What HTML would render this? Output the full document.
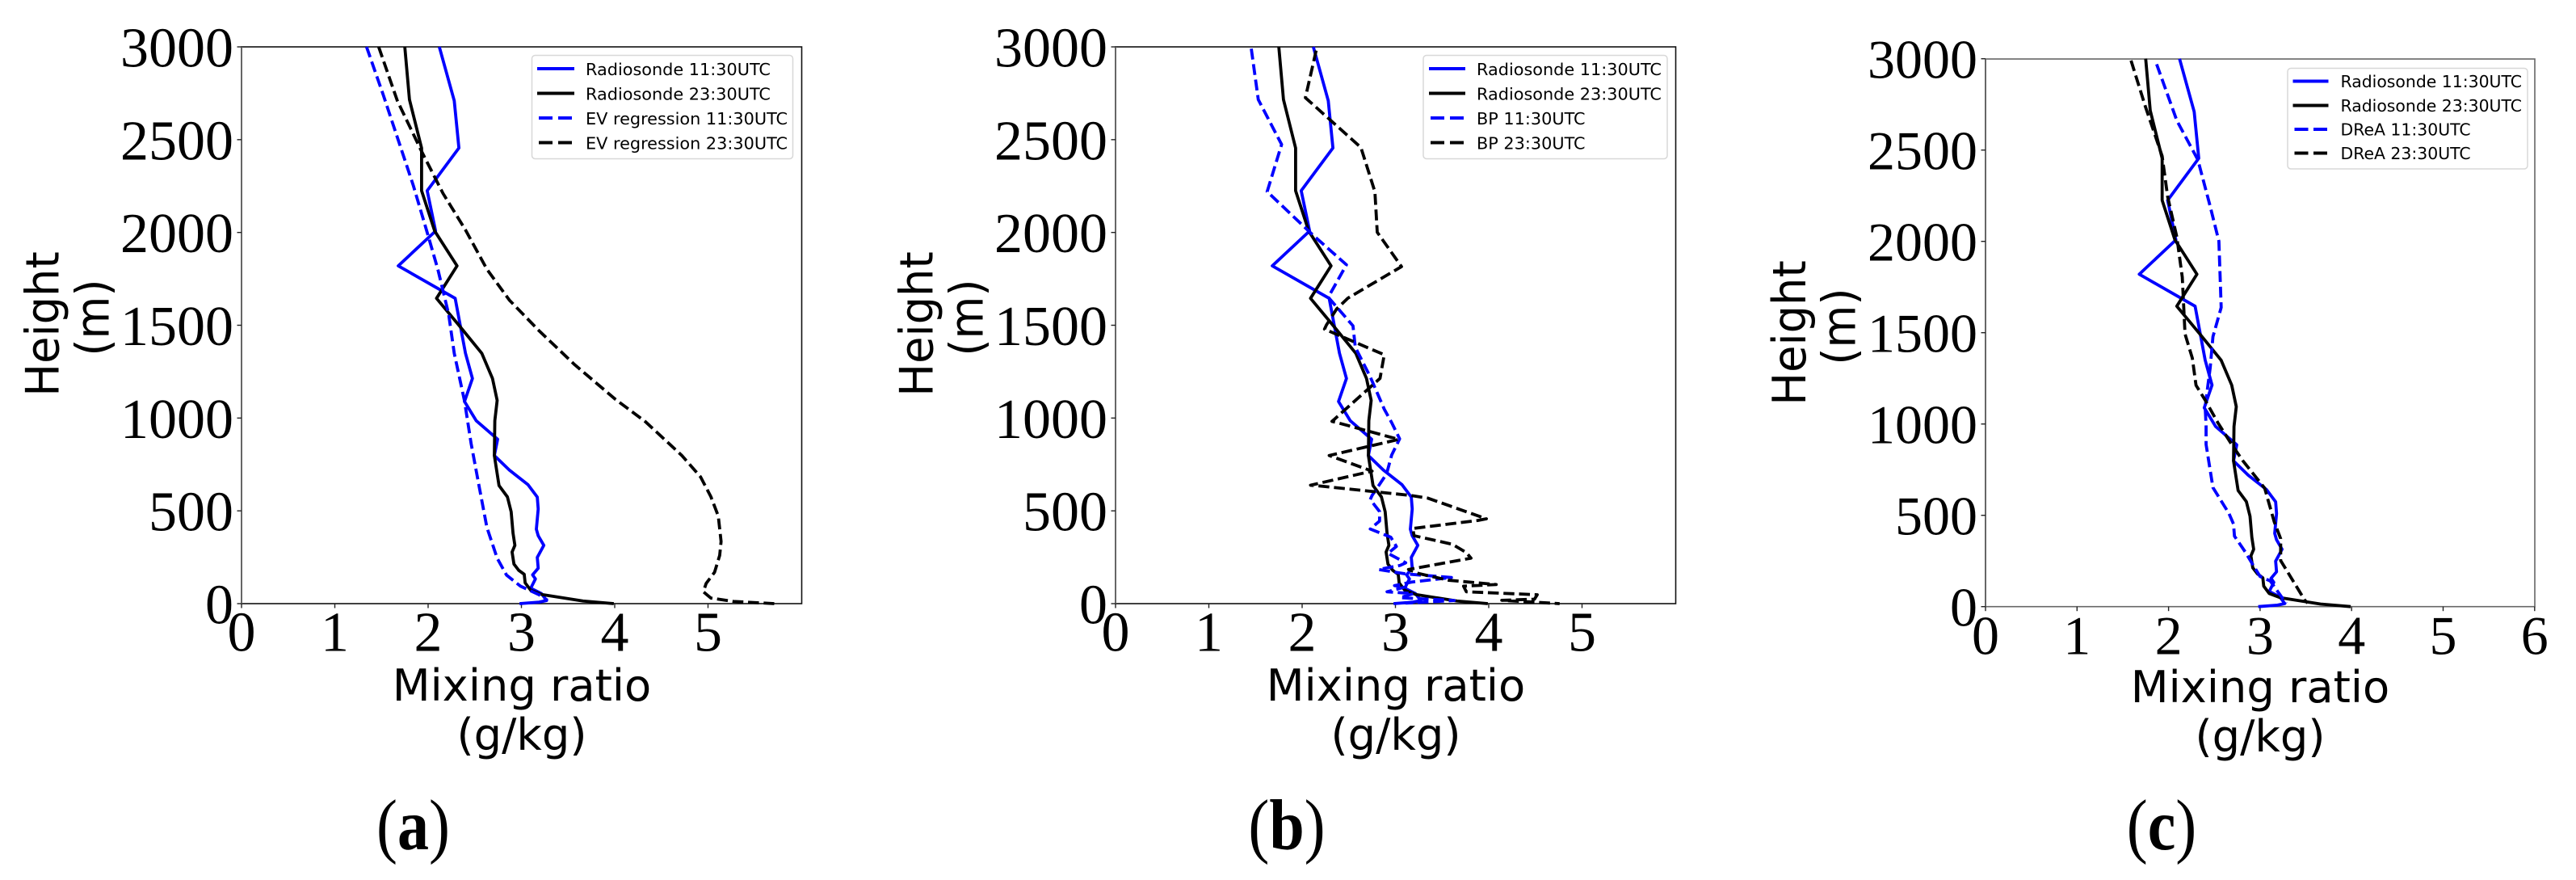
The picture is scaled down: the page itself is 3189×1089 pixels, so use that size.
<!DOCTYPE html>
<html lang="en">
<head>
<meta charset="utf-8">
<title>Mixing ratio profiles</title>
<style>
html,body{margin:0;padding:0;background:#fff;}
svg{display:block;}
.tick-label{font-family:"Liberation Serif",serif;fill:#000;}
.axis-title{font-family:"DejaVu Sans",sans-serif;font-size:54.3px;fill:#000;text-anchor:middle;}
.legend-text{font-family:"DejaVu Sans",sans-serif;font-size:20.8px;fill:#000;}
.caption{font-family:"Liberation Serif",serif;font-size:78px;fill:#000;text-anchor:middle;}
.legend-box{fill:#fff;stroke:#d8d8d8;stroke-width:1.5;}
</style>
</head>
<body>
<svg id="figure" xmlns="http://www.w3.org/2000/svg" width="3189" height="1089" viewBox="0 0 3189 1089">
  <rect x="0" y="0" width="3189" height="1089" fill="#fff"/>

  <g id="panel-a">
    <g id="panel-a-marks"></g>
    <g>
      <rect class="legend-box" x="658.5" y="68.5" width="323" height="128" rx="4"/>
      <line x1="665" x2="711" y1="85" y2="85" stroke="#0000ff" stroke-width="4"/>
      <line x1="665" x2="711" y1="115.5" y2="115.5" stroke="#000" stroke-width="4"/>
      <line x1="667" x2="709" y1="146" y2="146" stroke="#0000ff" stroke-width="4" stroke-dasharray="17 7"/>
      <line x1="667" x2="709" y1="176.5" y2="176.5" stroke="#000" stroke-width="4" stroke-dasharray="17 7"/>
      <text class="legend-text" x="725" y="93">Radiosonde 11:30UTC</text>
      <text class="legend-text" x="725" y="123.5">Radiosonde 23:30UTC</text>
      <text class="legend-text" x="725" y="154">EV regression 11:30UTC</text>
      <text class="legend-text" x="725" y="184.5">EV regression 23:30UTC</text>
    </g>
    <text class="axis-title" x="646" y="867">Mixing ratio</text>
    <text class="axis-title" x="646" y="928">(g/kg)</text>
    <text class="axis-title" transform="translate(72.7 401) rotate(-90) scale(1 1.05)">Height</text>
    <text class="axis-title" transform="translate(134.3 393) rotate(-90) scale(1 1.05)">(m)</text>
    <text class="caption" transform="translate(511.5 1051) scale(1 1.14)">(<tspan font-weight="bold">a</tspan>)</text>
  </g>

  <g id="panel-b">
    <g id="panel-b-marks"></g>
    <g>
      <rect class="legend-box" x="1762" y="68.5" width="302" height="128" rx="4"/>
      <line x1="1769" x2="1814" y1="85" y2="85" stroke="#0000ff" stroke-width="4"/>
      <line x1="1769" x2="1814" y1="115.5" y2="115.5" stroke="#000" stroke-width="4"/>
      <line x1="1771" x2="1812" y1="146" y2="146" stroke="#0000ff" stroke-width="4" stroke-dasharray="17 7"/>
      <line x1="1771" x2="1812" y1="176.5" y2="176.5" stroke="#000" stroke-width="4" stroke-dasharray="17 7"/>
      <text class="legend-text" x="1828" y="93">Radiosonde 11:30UTC</text>
      <text class="legend-text" x="1828" y="123.5">Radiosonde 23:30UTC</text>
      <text class="legend-text" x="1828" y="154">BP 11:30UTC</text>
      <text class="legend-text" x="1828" y="184.5">BP 23:30UTC</text>
    </g>
    <text class="axis-title" x="1728" y="867">Mixing ratio</text>
    <text class="axis-title" x="1728" y="928">(g/kg)</text>
    <text class="axis-title" transform="translate(1154.7 401) rotate(-90) scale(1 1.05)">Height</text>
    <text class="axis-title" transform="translate(1216.3 393) rotate(-90) scale(1 1.05)">(m)</text>
    <text class="caption" transform="translate(1593 1051) scale(1 1.14)">(<tspan font-weight="bold">b</tspan>)</text>
  </g>

  <g id="panel-c">
    <g id="panel-c-marks"></g>
    <g>
      <rect class="legend-box" x="2832" y="84.5" width="297" height="124.5" rx="4"/>
      <line x1="2838.5" x2="2882.5" y1="100.5" y2="100.5" stroke="#0000ff" stroke-width="4"/>
      <line x1="2838.5" x2="2882.5" y1="130.5" y2="130.5" stroke="#000" stroke-width="4"/>
      <line x1="2840.5" x2="2881" y1="160" y2="160" stroke="#0000ff" stroke-width="4" stroke-dasharray="17 6.5"/>
      <line x1="2840.5" x2="2881" y1="189.5" y2="189.5" stroke="#000" stroke-width="4" stroke-dasharray="17 6.5"/>
      <text class="legend-text" x="2897.5" y="108" style="font-size:20.4px">Radiosonde 11:30UTC</text>
      <text class="legend-text" x="2897.5" y="138" style="font-size:20.4px">Radiosonde 23:30UTC</text>
      <text class="legend-text" x="2897.5" y="167.5" style="font-size:20.4px">DReA 11:30UTC</text>
      <text class="legend-text" x="2897.5" y="197" style="font-size:20.4px">DReA 23:30UTC</text>
    </g>
    <text class="axis-title" x="2798" y="869">Mixing ratio</text>
    <text class="axis-title" x="2798" y="930">(g/kg)</text>
    <text class="axis-title" transform="translate(2235 412) rotate(-90) scale(1 1.05)">Height</text>
    <text class="axis-title" transform="translate(2296.5 404) rotate(-90) scale(1 1.05)">(m)</text>
    <text class="caption" transform="translate(2676 1051) scale(1 1.14)">(<tspan font-weight="bold">c</tspan>)</text>
  </g>
</svg>

<script>
// ---- Tick labels ----
const yTickLabels = [0, 500, 1000, 1500, 2000, 2500, 3000];
const xTickLabelsAB = [0, 1, 2, 3, 4, 5];
const xTickLabelsC = [0, 1, 2, 3, 4, 5, 6];

// ---- Radiosonde 11:30 UTC (all panels) ----
const radiosonde1130Height = [3000,2710,2455,2225,2008,1820,1645,1350,1213,1089,986,886,798,720,641,574,510,401,366,314,249,191,155,133,83,54,17,8,0];
const radiosonde1130Mix = [2.12,2.28,2.33,1.99,2.08,1.68,2.29,2.40,2.475,2.39,2.515,2.745,2.71,2.87,3.07,3.17,3.18,3.16,3.18,3.24,3.17,3.18,3.12,3.15,3.10,3.215,3.27,3.19,2.98];

// ---- Radiosonde 23:30 UTC (all panels) ----
const radiosonde2330Height = [3000,2716,2455,2225,2008,1820,1645,1494,1349,1213,1095,986,798,636,575,495,380,314,278,213,180,158,112,72,49,14,0];
const radiosonde2330Mix = [1.75,1.80,1.93,1.93,2.07,2.31,2.09,2.34,2.575,2.69,2.74,2.715,2.71,2.76,2.85,2.89,2.91,2.93,2.90,2.92,2.97,3.03,3.04,3.10,3.22,3.66,3.99];

// ---- EV regression (panel a) ----
const ev1130Height = [3000,2740,2467,2255,2000,1800,1560,1349,1092,865,623,411,245,154,94,48,18];
const ev1130Mix = [1.34,1.52,1.70,1.84,1.99,2.105,2.22,2.28,2.39,2.46,2.55,2.63,2.74,2.84,2.99,3.19,3.28];
const ev2330Height = [3000,2710,2437,2210,2014,1802,1636,1470,1288,1100,980,798,683,577,472,335,260,169,109,64,30,12,0];
const ev2330Mix = [1.47,1.67,1.93,2.16,2.40,2.63,2.87,3.19,3.57,4.01,4.33,4.72,4.92,5.03,5.11,5.14,5.125,5.07,4.98,4.95,5.03,5.27,5.71];

// ---- BP (panel b) ----
const bp1130Height = [2990,2716,2474,2220,1984,1826,1651,1497,1381,1222,1048,975,888,801,699,583,561,496,445,402,358,308,271,220,206,184,160,141,116,97,90,64,54,32,17,3];
const bp1130Mix = [1.455,1.53,1.78,1.625,2.12,2.475,2.28,2.545,2.57,2.73,2.88,2.96,3.045,2.96,2.905,2.75,2.73,2.83,2.83,2.73,2.95,3.01,2.92,3.11,3.05,2.82,3.11,3.60,3.17,2.99,3.11,2.91,3.19,3.05,3.63,3.11];
const bp2330Height = [2980,2726,2458,2219,2001,1816,1646,1588,1501,1479,1341,1214,982,972,885,798,714,638,634,583,568,457,448,405,366,320,275,245,184,162,126,103,94,64,48,24,18,0];
const bp2330Mix = [2.15,2.035,2.63,2.78,2.805,3.065,2.49,2.37,2.26,2.24,2.88,2.835,2.32,2.40,3.035,2.29,2.75,2.09,2.185,3.165,3.35,3.975,3.88,3.185,3.20,3.61,3.76,3.81,3.14,3.25,3.57,4.08,3.73,3.76,4.52,4.49,4.14,4.76];

// ---- DReA (panel c) ----
const drea1130Height = [2970,2662,2447,2201,2001,1638,1478,1308,1212,1094,991,888,652,510,452,386,298,239,165,141,18];
const drea1130Mix = [1.87,2.09,2.32,2.45,2.55,2.575,2.485,2.455,2.43,2.40,2.41,2.41,2.485,2.66,2.71,2.72,2.84,2.91,3.0,3.11,3.285];
const drea2330Height = [2990,2733,2467,2245,2025,1804,1493,1360,1212,1131,1006,888,800,649,464,372,252,203,34,20];
const drea2330Mix = [1.59,1.75,1.93,1.99,2.09,2.15,2.18,2.26,2.30,2.40,2.54,2.69,2.81,3.05,3.155,3.225,3.225,3.285,3.49,3.52];

const SVG_NS = 'http://www.w3.org/2000/svg';
const BLUE = '#0000ff';
const BLACK = '#000000';

function makeXScale(left, unit) { return function (v) { return left + v * unit; }; }
function makeYScale(bottom, perMetre) { return function (h) { return bottom - h * perMetre; }; }

function drawSeries(group, xScale, yScale, mix, height, colour, dashed, name) {
  const pts = mix.map(function (v, i) { return xScale(v).toFixed(2) + ',' + yScale(height[i]).toFixed(2); }).join(' ');
  const line = document.createElementNS(SVG_NS, 'polyline');
  line.setAttribute('points', pts);
  line.setAttribute('fill', 'none');
  line.setAttribute('stroke', colour);
  line.setAttribute('stroke-width', '3.8');
  line.setAttribute('stroke-linejoin', 'round');
  if (dashed) line.setAttribute('stroke-dasharray', '13.5 5.8');
  
  
  group.appendChild(line);
}

function drawAxes(group, left, right, top, bottom, xScale, yScale, xLabels, frameColour, fontSize, xBaseline) {
  const frame = document.createElementNS(SVG_NS, 'rect');
  frame.setAttribute('x', left);
  frame.setAttribute('y', top);
  frame.setAttribute('width', right - left);
  frame.setAttribute('height', bottom - top);
  frame.setAttribute('fill', 'none');
  frame.setAttribute('stroke', frameColour);
  frame.setAttribute('stroke-width', '1.6');
  
  
  group.appendChild(frame);

  const leftSpine = document.createElementNS(SVG_NS, 'line');
  leftSpine.setAttribute('x1', left);
  leftSpine.setAttribute('x2', left);
  leftSpine.setAttribute('y1', top);
  leftSpine.setAttribute('y2', bottom);
  leftSpine.setAttribute('stroke', '#666');
  leftSpine.setAttribute('stroke-width', '2');
  
  
  group.appendChild(leftSpine);

  xLabels.forEach(function (value) {
    const tick = document.createElementNS(SVG_NS, 'line');
    tick.setAttribute('x1', xScale(value));
    tick.setAttribute('x2', xScale(value));
    tick.setAttribute('y1', bottom);
    tick.setAttribute('y2', bottom + 5.5);
    tick.setAttribute('stroke', '#222');
    tick.setAttribute('stroke-width', '1.4');
    
    
    group.appendChild(tick);

    const label = document.createElementNS(SVG_NS, 'text');
    label.setAttribute('class', 'tick-label');
    label.setAttribute('x', xScale(value));
    label.setAttribute('y', xBaseline);
    label.setAttribute('text-anchor', 'middle');
    label.setAttribute('font-size', fontSize);
    
    
    label.textContent = String(value);
    group.appendChild(label);
  });

  yTickLabels.forEach(function (value) {
    const tick = document.createElementNS(SVG_NS, 'line');
    tick.setAttribute('x1', left - 5.5);
    tick.setAttribute('x2', left);
    tick.setAttribute('y1', yScale(value));
    tick.setAttribute('y2', yScale(value));
    tick.setAttribute('stroke', '#222');
    tick.setAttribute('stroke-width', '1.4');
    
    
    group.appendChild(tick);

    const label = document.createElementNS(SVG_NS, 'text');
    label.setAttribute('class', 'tick-label');
    label.setAttribute('x', left - 10);
    label.setAttribute('y', yScale(value) + fontSize * 0.343 + 0.5);
    label.setAttribute('text-anchor', 'end');
    label.setAttribute('font-size', fontSize);
    
    
    label.textContent = String(value);
    group.appendChild(label);
  });
}

// Panel (a)
(function () {
  const g = document.getElementById('panel-a-marks');
  const x = makeXScale(299, 115.5);
  const y = makeYScale(747, 689 / 3000);
  drawAxes(g, 299, 992.5, 58, 747, x, y, xTickLabelsAB, '#111', 70, 805.5);
  drawSeries(g, x, y, radiosonde1130Mix, radiosonde1130Height, BLUE, false, 'radiosonde-1130-line');
  drawSeries(g, x, y, radiosonde2330Mix, radiosonde2330Height, BLACK, false, 'radiosonde-2330-line');
  drawSeries(g, x, y, ev1130Mix, ev1130Height, BLUE, true, 'ev-regression-1130-line');
  drawSeries(g, x, y, ev2330Mix, ev2330Height, BLACK, true, 'ev-regression-2330-line');
})();

// Panel (b)
(function () {
  const g = document.getElementById('panel-b-marks');
  const x = makeXScale(1381, 115.5);
  const y = makeYScale(747, 689 / 3000);
  drawAxes(g, 1381, 2074.5, 58, 747, x, y, xTickLabelsAB, '#111', 70, 805.5);
  drawSeries(g, x, y, radiosonde1130Mix, radiosonde1130Height, BLUE, false, 'radiosonde-1130-line');
  drawSeries(g, x, y, radiosonde2330Mix, radiosonde2330Height, BLACK, false, 'radiosonde-2330-line');
  drawSeries(g, x, y, bp1130Mix, bp1130Height, BLUE, true, 'bp-1130-line');
  drawSeries(g, x, y, bp2330Mix, bp2330Height, BLACK, true, 'bp-2330-line');
})();

// Panel (c)
(function () {
  const g = document.getElementById('panel-c-marks');
  const x = makeXScale(2458, 113.3);
  const y = makeYScale(750.7, 678 / 3000);
  drawAxes(g, 2458, 3138, 73, 750.7, x, y, xTickLabelsC, '#666', 68, 809.5);
  drawSeries(g, x, y, radiosonde1130Mix, radiosonde1130Height, BLUE, false, 'radiosonde-1130-line');
  drawSeries(g, x, y, radiosonde2330Mix, radiosonde2330Height, BLACK, false, 'radiosonde-2330-line');
  drawSeries(g, x, y, drea1130Mix, drea1130Height, BLUE, true, 'drea-1130-line');
  drawSeries(g, x, y, drea2330Mix, drea2330Height, BLACK, true, 'drea-2330-line');
})();
</script>
</body>
</html>
